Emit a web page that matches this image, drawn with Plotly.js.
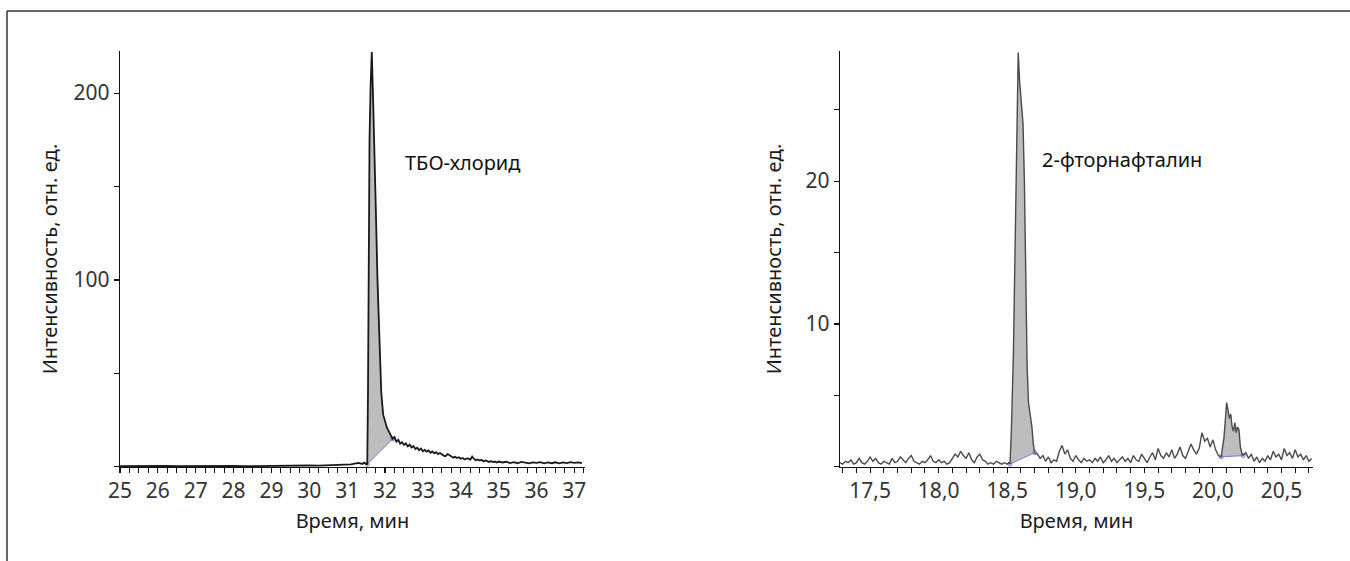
<!DOCTYPE html>
<html><head><meta charset="utf-8">
<script src="https://cdn.plot.ly/plotly-3.0.1.min.js"></script>
<style>html,body{margin:0;padding:0;background:#fff}#chart{width:1350px;height:561px}</style>
</head><body><div id="chart"></div>
<script>
// ---- Left chromatogram: ТБО-хлорид ----
const leftTime = [25.0,25.25,25.5,25.75,26.0,26.25,26.5,26.75,27.0,27.25,27.5,27.75,28.0,28.25,28.5,28.75,29.0,29.25,29.5,29.75,30.0,30.25,30.5,30.75,31.0,
31.1,31.2,31.3,31.4,31.45,31.5,31.53,31.55,31.57,31.59,31.62,31.65,31.68,31.7,31.73,31.76,31.8,31.83,31.86,31.9,31.95,32.0,32.05,32.1,32.15,32.2,
32.25,32.3,32.35,32.4,32.45,32.5,32.55,32.6,32.65,32.7,32.75,32.8,32.85,32.9,32.95,33.0,33.05,33.1,33.15,33.2,33.25,33.3,33.35,33.4,33.45,33.5,33.55,33.6,33.65,33.7,33.75,33.8,33.85,33.9,33.95,
34.0,34.05,34.1,34.15,34.2,34.25,34.3,34.35,34.4,34.45,34.5,34.55,34.6,34.65,34.7,34.75,34.8,34.85,34.9,34.95,
35.0,35.1,35.2,35.3,35.4,35.5,35.6,35.7,35.8,35.9,36.0,36.1,36.2,36.3,36.4,36.5,36.6,36.7,36.8,36.9,37.0,37.1,37.2];
const leftIntensity = [0.4,0.5,0.3,0.5,0.4,0.6,0.4,0.5,0.3,0.5,0.4,0.5,0.6,0.4,0.5,0.4,0.6,0.5,0.7,0.6,0.8,0.7,0.9,1.0,1.2,
1.4,1.8,2.2,1.6,2.3,1.6,1.5,40,120,175,205,222,200,180,160,135,100,78,56,40,28,24,21,19,17,15,
16,13.5,14.5,12.5,13.2,11.8,12.6,11.0,11.9,10.4,11.2,9.6,10.3,9.0,9.8,8.4,9.1,8.2,8.8,7.6,8.3,7.3,7.9,6.9,7.5,6.6,6.1,5.8,6.9,6.4,5.6,5.0,5.5,4.8,5.2,
4.4,4.8,4.0,4.5,4.6,3.9,5.6,4.3,3.6,4.0,3.4,3.8,3.0,3.5,3.2,2.7,3.1,2.6,2.9,2.4,
2.9,2.4,2.8,2.1,2.6,2.0,2.7,2.3,1.9,2.5,2.2,2.6,1.9,2.4,2.0,2.5,1.9,2.4,2.1,2.6,2.2,2.5,2.0];
const leftPeakWindows = [[31.53, 32.2]];
const leftYTicks = [100, 200];
const leftLabel = 'ТБО-хлорид';

// ---- Right chromatogram: 2-фторнафталин ----
const rightTime = [17.28,17.30,17.32,17.34,17.36,17.38,17.40,17.42,17.44,17.46,17.48,17.50,17.52,17.54,17.56,17.58,17.60,17.62,17.64,17.66,17.68,17.70,
17.72,17.74,17.76,17.78,17.80,17.82,17.84,17.86,17.88,17.90,17.92,17.94,17.96,17.98,18.00,18.02,18.04,18.06,18.08,18.10,18.12,18.14,18.16,18.18,18.20,
18.22,18.24,18.26,18.28,18.30,18.32,18.34,18.36,18.38,18.40,18.42,18.44,18.46,18.48,18.50,18.51,18.52,18.53,18.545,18.56,18.57,18.58,18.59,18.60,18.615,
18.625,18.635,18.645,18.655,18.67,18.68,18.69,18.70,18.72,18.74,18.76,18.78,18.80,18.82,18.84,18.86,18.88,18.90,18.92,18.94,18.96,18.98,19.00,19.02,
19.04,19.06,19.08,19.10,19.12,19.14,19.16,19.18,19.20,19.22,19.24,19.26,19.28,19.30,19.32,19.34,19.36,19.38,19.40,19.42,19.44,19.46,19.48,19.50,19.52,
19.54,19.56,19.58,19.60,19.62,19.64,19.66,19.68,19.70,19.72,19.74,19.76,19.78,19.80,19.82,19.84,19.86,19.88,19.90,19.92,19.94,19.96,19.98,20.00,20.02,
20.04,20.06,20.08,20.09,20.10,20.11,20.12,20.13,20.14,20.15,20.16,20.17,20.18,20.19,20.20,20.21,20.22,20.24,20.26,20.28,20.30,20.32,20.34,20.36,20.38,
20.40,20.42,20.44,20.46,20.48,20.50,20.52,20.54,20.56,20.58,20.60,20.62,20.64,20.66,20.68,20.70,20.72];
const rightIntensity = [0.3,0.2,0.4,0.3,0.5,0.2,0.3,0.6,0.3,0.2,0.4,0.7,0.4,0.6,0.3,0.2,0.4,0.3,0.2,0.6,0.3,0.4,
0.7,0.5,0.3,0.6,0.8,0.4,0.3,0.2,0.4,0.3,0.5,0.8,0.4,0.3,0.5,0.3,0.4,0.2,0.3,0.6,0.9,0.7,1.1,0.8,0.6,
1.0,0.5,0.3,0.7,0.9,0.5,0.4,0.2,0.3,0.2,0.4,0.3,0.2,0.3,0.2,0.3,0.2,2.5,8,17,24,29,27,26,24,
20,14,7,4.5,3.5,2.8,1.6,1.0,0.9,0.6,0.8,0.4,0.7,0.3,0.5,0.4,1.1,1.5,0.9,1.2,0.6,0.4,0.8,0.5,
0.3,0.6,0.4,0.5,0.3,0.6,0.4,0.7,0.3,0.5,0.8,0.4,0.6,0.3,0.5,0.7,0.4,0.6,0.3,0.8,0.5,0.4,0.9,0.6,0.3,
0.7,1.0,0.5,1.3,0.8,0.6,1.0,0.7,1.2,0.6,0.9,1.4,0.8,0.6,1.1,1.6,1.2,0.9,1.3,2.4,1.8,2.0,1.4,1.9,1.2,
0.8,0.7,2.0,3.2,4.5,4.0,3.4,3.7,2.8,2.5,3.1,2.4,2.8,2.6,1.4,1.0,0.8,1.0,0.6,0.9,0.4,0.7,0.3,0.6,0.4,
0.8,0.5,1.1,0.7,0.9,0.5,1.3,0.8,1.0,0.6,1.2,0.7,0.9,0.5,0.8,0.4,0.6];
const rightPeakWindows = [[18.52, 18.70], [20.06, 20.22]];
const rightYTicks = [10, 20];
const rightLabel = '2-фторнафталин';

const xTitle = 'Время, мин';
const yTitle = 'Интенсивность, отн. ед.';

function peakArea(times, vals, win, xa, ya) {
  const eps = 1e-9;
  const px = [], py = [];
  times.forEach((t, i) => { if (t >= win[0] - eps && t <= win[1] + eps) { px.push(t); py.push(vals[i]); } });
  const area = {x: px, y: py, xaxis: xa, yaxis: ya, mode: 'lines', fill: 'toself',
    fillcolor: '#bdbdbd', line: {width: 0}, hoverinfo: 'skip', showlegend: false};
  const base = {x: [px[0], px[px.length-1]], y: [py[0], py[py.length-1]], xaxis: xa, yaxis: ya,
    mode: 'lines+markers', line: {color: '#7a7ad8', width: 1},
    marker: {symbol: 'circle-open', size: 4, color: '#7a7ad8'}, hoverinfo: 'skip', showlegend: false};
  return [area, base];
}

const traces = [];
leftPeakWindows.forEach(w => traces.push(...peakArea(leftTime, leftIntensity, w, 'x', 'y')));
rightPeakWindows.forEach(w => traces.push(...peakArea(rightTime, rightIntensity, w, 'x2', 'y2')));
traces.push({x: leftTime, y: leftIntensity, xaxis: 'x', yaxis: 'y', mode: 'lines',
  line: {color: '#1a1a1a', width: 1.8}, showlegend: false});
traces.push({x: rightTime, y: rightIntensity, xaxis: 'x2', yaxis: 'y2', mode: 'lines',
  line: {color: '#4a4a4a', width: 1.4}, showlegend: false});

const FONT = 'Noto Sans, Open Sans, sans-serif';
const axisCommon = {showline: true, linecolor: '#111', linewidth: 1.3, ticks: 'outside', ticklen: 5,
  tickwidth: 1.1, tickcolor: '#111', showgrid: false, zeroline: false,
  tickfont: {family: FONT, size: 21, color: '#333'}};

const layout = {
  width: 1350, height: 561,
  margin: {l: 0, r: 0, t: 0, b: 0},
  paper_bgcolor: '#fff', plot_bgcolor: '#fff',
  separators: ',.',
  font: {family: FONT, color: '#222'},
  showlegend: false,
  xaxis: Object.assign({}, axisCommon, {domain: [0.0889, 0.4333], range: [25, 37.28], anchor: 'y',
    tick0: 25, dtick: 1,
    minor: {ticks: 'outside', ticklen: 5, dtick: 0.25, tickcolor: '#111', tickwidth: 1},
    title: {text: xTitle, font: {family: FONT, size: 20, color: '#1a1a1a'}, standoff: 10}}),
  yaxis: Object.assign({}, axisCommon, {domain: [0.1676, 0.9091], range: [0, 222.5], anchor: 'x',
    tickmode: 'array', tickvals: leftYTicks,
    minor: {ticks: 'outside', ticklen: 5, dtick: 50, tickcolor: '#111', tickwidth: 1},
    title: {text: yTitle, font: {family: FONT, size: 20, color: '#1a1a1a'}, standoff: 10}}),
  xaxis2: Object.assign({}, axisCommon, {domain: [0.6222, 0.9726], range: [17.28, 20.73], anchor: 'y2',
    tick0: 17.5, dtick: 0.5, tickformat: '.1f',
    minor: {ticks: 'outside', ticklen: 5, dtick: 0.1, tickcolor: '#111', tickwidth: 1},
    title: {text: xTitle, font: {family: FONT, size: 20, color: '#1a1a1a'}, standoff: 10}}),
  yaxis2: Object.assign({}, axisCommon, {domain: [0.1676, 0.9091], range: [0, 29.1], anchor: 'x2',
    tickmode: 'array', tickvals: rightYTicks,
    minor: {ticks: 'outside', ticklen: 5, dtick: 5, tickcolor: '#111', tickwidth: 1},
    title: {text: yTitle, font: {family: FONT, size: 20, color: '#1a1a1a'}, standoff: 18}}),
  annotations: [
    {text: leftLabel, xref: 'x', yref: 'y', x: 34.05, y: 162.6, showarrow: false,
      font: {family: FONT, size: 20, color: '#111'}},
    {text: rightLabel, xref: 'x2', yref: 'y2', x: 19.34, y: 21.5, showarrow: false,
      font: {family: FONT, size: 20, color: '#111'}}
  ],
  shapes: [
    {type: 'line', xref: 'paper', yref: 'paper', x0: 7/1350, x1: 1.01, y0: 1 - 11/561, y1: 1 - 11/561,
      line: {color: '#333', width: 1.5}},
    {type: 'line', xref: 'paper', yref: 'paper', x0: 7/1350, x1: 7/1350, y0: 1 - 11/561, y1: -0.01,
      line: {color: '#333', width: 1.5}}
  ]
};

Plotly.newPlot('chart', traces, layout, {displayModeBar: false, staticPlot: true});
</script>
</body></html>
